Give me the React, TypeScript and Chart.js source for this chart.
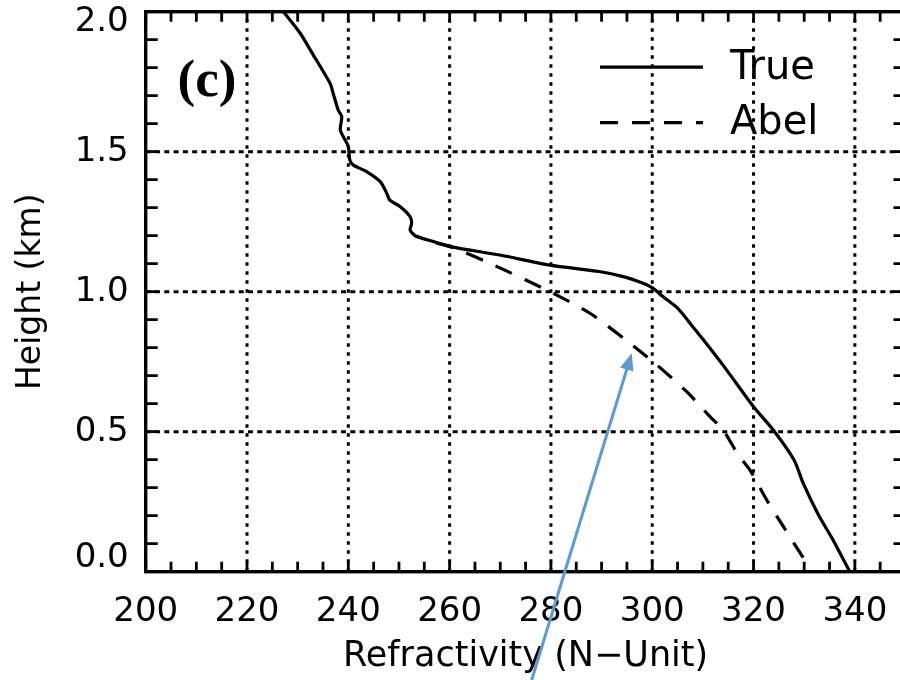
import React, { useEffect, useRef } from "react";
import { Chart, registerables } from "chart.js";

Chart.register(...registerables);

// ---- data ----
const X_TICKS = [200, 220, 240, 260, 280, 300, 320, 340];
const X_GRID = [220, 240, 260, 280, 300, 320, 340];
const Y_TICKS = [0, 0.5, 1.0, 1.5, 2.0];
const Y_GRID = [0.5, 1.0, 1.5];
const X_MINOR_STEP = 5;
const Y_MINOR_STEP = 0.1;

const TRUE_H = [0.0, 0.11, 0.203, 0.316, 0.399, 0.506, 0.589, 0.72, 0.828, 0.87, 0.91, 0.945, 0.97, 0.99, 1.012, 1.03, 1.054, 1.072, 1.095, 1.131, 1.161, 1.179, 1.2, 1.22, 1.244, 1.268, 1.304, 1.327, 1.351, 1.393, 1.429, 1.452, 1.47, 1.518, 1.554, 1.578, 1.625, 1.649, 1.709, 1.744, 1.845, 1.923, 2.0];
const TRUE_N = [339.0, 335.8, 332.8, 329.8, 328.0, 323.9, 320.0, 314.7, 310.1, 308.2, 306.5, 304.8, 303.0, 301.6, 300.2, 298.2, 294.3, 289.5, 279.8, 269.9, 260.1, 256.8, 253.2, 252.2, 252.5, 252.2, 250.2, 248.2, 247.6, 246.3, 243.6, 241.0, 240.3, 240.0, 239.0, 238.4, 238.7, 238.0, 237.0, 236.4, 233.1, 230.5, 227.2];

const ABEL_H = [0.05, 0.161, 0.256, 0.363, 0.417, 0.506, 0.554, 0.643, 0.745, 0.83, 0.923, 1.0, 1.101, 1.161, 1.178];
const ABEL_N = [329.8, 325.9, 322.6, 319.3, 317.0, 314.0, 311.4, 306.8, 300.5, 294.6, 287.7, 279.8, 268.0, 260.1, 256.5];

const SERIES_LABELS = ["True", "Abel"];
const PANEL_LABEL = "(c)";
const X_TITLE = "Refractivity (N\u2212Unit)";
const Y_TITLE = "Height (km)";

// annotation arrow (data coordinates)
const ARROW_FROM = { x: 276.2, y: -0.387 };
const ARROW_TO = { x: 295.95, y: 0.78 };

const FONT = "DejaVu Sans";

const decorPlugin = {
  id: "decor",
  beforeDatasetsDraw(chart: any) {
    const { ctx, chartArea: a, scales } = chart;
    const x = scales.x, y = scales.y;
    ctx.save();
    ctx.strokeStyle = "#000";
    ctx.lineWidth = 3;
    ctx.setLineDash([3.5, 5.5]);
    X_GRID.forEach((v) => {
      const px = x.getPixelForValue(v);
      ctx.beginPath();
      ctx.moveTo(px, a.bottom);
      ctx.lineTo(px, a.top);
      ctx.stroke();
    });
    ctx.setLineDash([5, 4.3]);
    Y_GRID.forEach((v) => {
      const py = y.getPixelForValue(v);
      ctx.beginPath();
      ctx.moveTo(a.left, py);
      ctx.lineTo(a.right, py);
      ctx.stroke();
    });
    ctx.restore();
  },
  afterDatasetsDraw(chart: any) {
    const { ctx, chartArea: a, scales } = chart;
    const x = scales.x, y = scales.y;
    ctx.save();
    ctx.strokeStyle = "#000";
    ctx.setLineDash([]);
    // minor ticks
    ctx.lineWidth = 2.8;
    for (let v = x.min; v <= x.max + 1e-9; v += X_MINOR_STEP) {
      const px = x.getPixelForValue(v);
      ctx.beginPath();
      ctx.moveTo(px, a.bottom);
      ctx.lineTo(px, a.bottom - 10);
      ctx.moveTo(px, a.top);
      ctx.lineTo(px, a.top + 10);
      ctx.stroke();
    }
    for (let v = y.min; v <= y.max + 1e-9; v += Y_MINOR_STEP) {
      const py = y.getPixelForValue(v);
      ctx.beginPath();
      ctx.moveTo(a.left, py);
      ctx.lineTo(a.left + 12, py);
      ctx.moveTo(a.right, py);
      ctx.lineTo(a.right - 12, py);
      ctx.stroke();
    }
    // frame
    ctx.lineWidth = 3.4;
    ctx.strokeRect(a.left, a.top, a.right - a.left, a.bottom - a.top);

    // y tick labels
    ctx.fillStyle = "#000";
    ctx.font = `34px "${FONT}"`;
    ctx.textAlign = "right";
    ctx.textBaseline = "middle";
    Y_TICKS.forEach((v) => {
      let py = y.getPixelForValue(v);
      py = Math.max(a.top + 10, Math.min(a.bottom - 14, py));
      ctx.fillText(v.toFixed(1), a.left - 17, py);
    });

    // legend
    ctx.font = `40px "${FONT}"`;
    ctx.textAlign = "left";
    chart.data.datasets.forEach((ds: any, i: number) => {
      const ly = a.top + 55.5 + i * 55.5;
      ctx.lineWidth = 3.2;
      ctx.setLineDash(ds.borderDash || []);
      ctx.beginPath();
      ctx.moveTo(600, ly);
      ctx.lineTo(703, ly);
      ctx.stroke();
      ctx.setLineDash([]);
      ctx.fillText(ds.label, 730, ly + 1);
    });

    // panel label
    ctx.font = `bold 53px "Liberation Serif"`;
    ctx.textAlign = "center";
    ctx.fillText(PANEL_LABEL, 207, 82);

    // arrow
    const x0 = x.getPixelForValue(ARROW_FROM.x), y0 = y.getPixelForValue(ARROW_FROM.y);
    const x1 = x.getPixelForValue(ARROW_TO.x), y1 = y.getPixelForValue(ARROW_TO.y);
    const ang = Math.atan2(y1 - y0, x1 - x0);
    const hl = 17, hw = 7;
    ctx.strokeStyle = "#5B9BD5";
    ctx.fillStyle = "#5B9BD5";
    ctx.lineWidth = 3;
    ctx.beginPath();
    ctx.moveTo(x0, y0);
    ctx.lineTo(x1 - Math.cos(ang) * hl * 0.8, y1 - Math.sin(ang) * hl * 0.8);
    ctx.stroke();
    ctx.beginPath();
    ctx.moveTo(x1, y1);
    ctx.lineTo(x1 - Math.cos(ang) * hl - Math.sin(ang) * hw, y1 - Math.sin(ang) * hl + Math.cos(ang) * hw);
    ctx.lineTo(x1 - Math.cos(ang) * hl + Math.sin(ang) * hw, y1 - Math.sin(ang) * hl - Math.cos(ang) * hw);
    ctx.closePath();
    ctx.fill();
    ctx.restore();
  },
};

export default function App() {
  const ref = useRef<HTMLCanvasElement | null>(null);
  useEffect(() => {
    document.body.style.margin = "0";
    document.body.style.overflow = "hidden";
    const canvas = ref.current;
    if (!canvas) return;
    const trueData = TRUE_N.map((n, i) => ({ x: n, y: TRUE_H[i] }));
    const abelData = ABEL_N.map((n, i) => ({ x: n, y: ABEL_H[i] }));
    const chart = new Chart(canvas, {
      type: "line",
      data: {
        datasets: [
          {
            label: SERIES_LABELS[0],
            data: trueData,
            borderColor: "#000",
            borderWidth: 3.2,
            pointRadius: 0,
            tension: 0.25,
            fill: false,
          },
          {
            label: SERIES_LABELS[1],
            data: abelData,
            borderColor: "#000",
            borderWidth: 3.2,
            borderDash: [18, 14],
            pointRadius: 0,
            tension: 0.25,
            fill: false,
          },
        ],
      },
      options: {
        responsive: false,
        maintainAspectRatio: false,
        animation: false,
        parsing: true,
        layout: { padding: { left: 0, top: 11.7, right: 14.5, bottom: 0 } },
        plugins: { legend: { display: false }, tooltip: { enabled: false } },
        scales: {
          x: {
            type: "linear",
            min: 200,
            max: 350,
            afterBuildTicks: (s: any) => {
              s.ticks = X_TICKS.map((v) => ({ value: v }));
            },
            afterFit: (s: any) => {
              s.height = 108.3;
            },
            grid: { display: false, drawTicks: false },
            border: { display: false },
            ticks: {
              color: "#000",
              font: { family: FONT, size: 34 },
              padding: 20,
              autoSkip: false,
              maxRotation: 0,
              callback: (v: any) => String(v),
            },
            title: {
              display: true,
              text: X_TITLE,
              color: "#000",
              font: { family: FONT, size: 35 },
              padding: { top: 0, bottom: 2 },
            },
          },
          y: {
            type: "linear",
            min: 0,
            max: 2,
            afterFit: (s: any) => {
              s.width = 145.7;
            },
            grid: { display: false, drawTicks: false },
            border: { display: false },
            ticks: { display: false },
            title: {
              display: true,
              text: Y_TITLE,
              color: "#000",
              font: { family: FONT, size: 33 },
              padding: { top: 12, bottom: 0 },
            },
          },
        },
      },
      plugins: [decorPlugin],
    } as any);
    return () => chart.destroy();
  }, []);
  return (
    <div style={{ width: 920, height: 680, position: "relative" }}>
      <canvas ref={ref} width={920} height={680} style={{ display: "block" }} />
    </div>
  );
}
